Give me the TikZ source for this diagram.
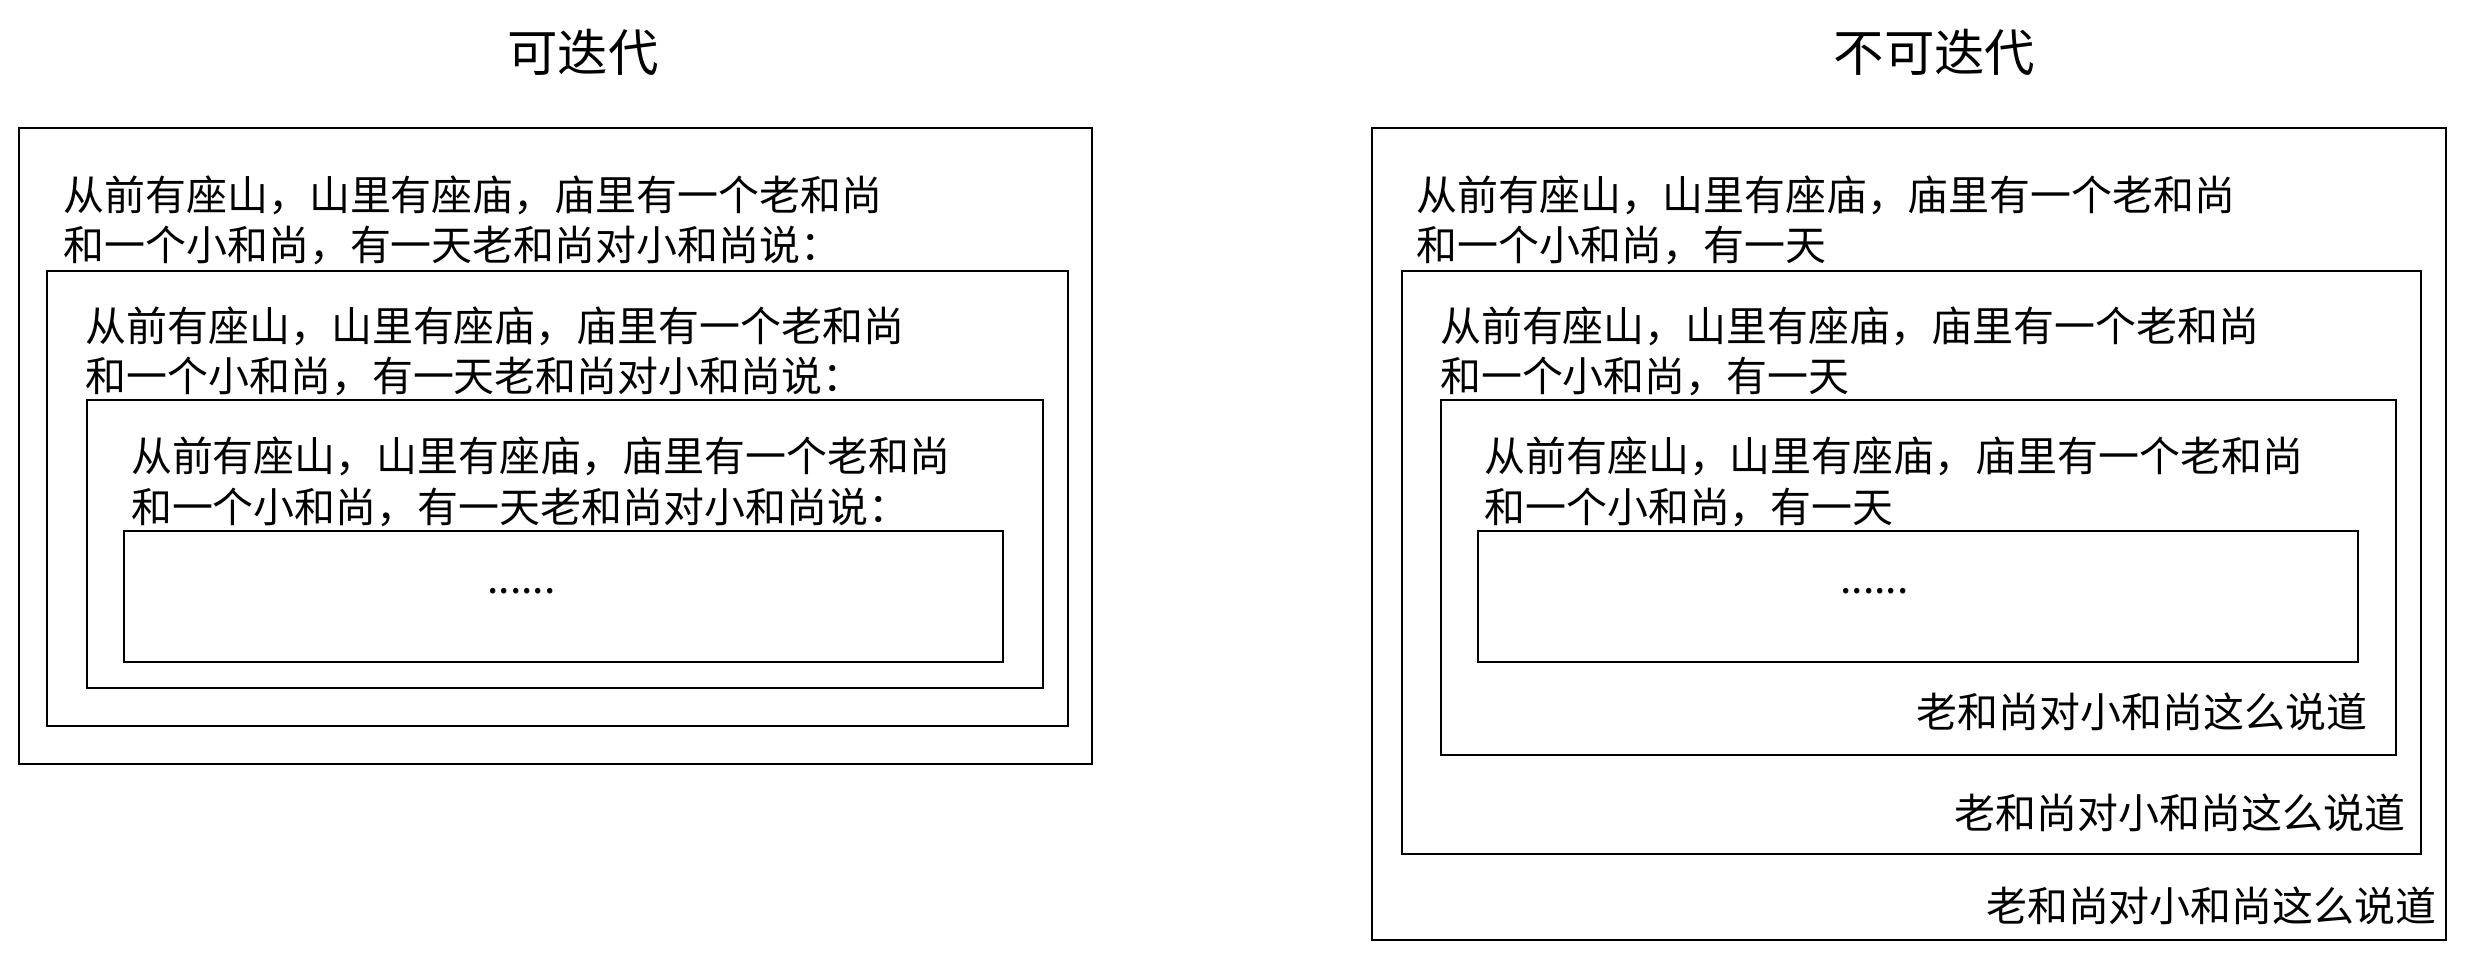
\documentclass[tikz,border=0pt]{standalone}
\usepackage{fontspec}
\setmainfont{Noto Sans CJK SC}
\begin{document}
\begin{tikzpicture}[x=1pt,y=-1pt,
  bx/.style={draw,line width=1.3pt},
  tx/.style={inner sep=0pt,anchor=west,font=\fontsize{26}{30}\selectfont},
  tr/.style={inner sep=0pt,anchor=east,font=\fontsize{26}{30}\selectfont},
  tt/.style={inner sep=0pt,font=\fontsize{32}{36}\selectfont}]
\useasboundingbox (0,0) rectangle (1568,619);
\node[tt] (t1) at (370,33) {可迭代};
\node[tt] (t2) at (1228,33) {不可迭代};
% left
\draw[bx] (12,81) rectangle (693,485);
\draw[bx] (30,172) rectangle (678,461);
\draw[bx] (55,254) rectangle (662,437);
\draw[bx] (79,337) rectangle (637,420);
\node[tx] (l1a) at (40,124) {从前有座山，山里有座庙，庙里有一个老和尚};
\node[tx] (l1b) at (40,156) {和一个小和尚，有一天老和尚对小和尚说：};
\node[tx] (l2a) at (54,207) {从前有座山，山里有座庙，庙里有一个老和尚};
\node[tx] (l2b) at (54,239) {和一个小和尚，有一天老和尚对小和尚说：};
\node[tx] (l3a) at (83,290) {从前有座山，山里有座庙，庙里有一个老和尚};
\node[tx] (l3b) at (83,322) {和一个小和尚，有一天老和尚对小和尚说：};
\node[inner sep=0pt,font=\fontsize{26}{30}\selectfont] (ld) at (331,375) {......};
% right
\draw[bx] (871,81) rectangle (1553,597);
\draw[bx] (890,172) rectangle (1537,542);
\draw[bx] (915,254) rectangle (1521,479);
\draw[bx] (938,337) rectangle (1497,420);
\node[tx] (r1a) at (899,124) {从前有座山，山里有座庙，庙里有一个老和尚};
\node[tx] (r1b) at (899,156) {和一个小和尚，有一天};
\node[tx] (r2a) at (914,207) {从前有座山，山里有座庙，庙里有一个老和尚};
\node[tx] (r2b) at (914,239) {和一个小和尚，有一天};
\node[tx] (r3a) at (942,290) {从前有座山，山里有座庙，庙里有一个老和尚};
\node[tx] (r3b) at (942,322) {和一个小和尚，有一天};
\node[inner sep=0pt,font=\fontsize{26}{30}\selectfont] (rd) at (1190,375) {......};
\node[tr] (r3c) at (1503,452) {老和尚对小和尚这么说道};
\node[tr] (r2c) at (1527,516) {老和尚对小和尚这么说道};
\node[tr] (r1c) at (1547,575) {老和尚对小和尚这么说道};
\end{tikzpicture}
\end{document}
